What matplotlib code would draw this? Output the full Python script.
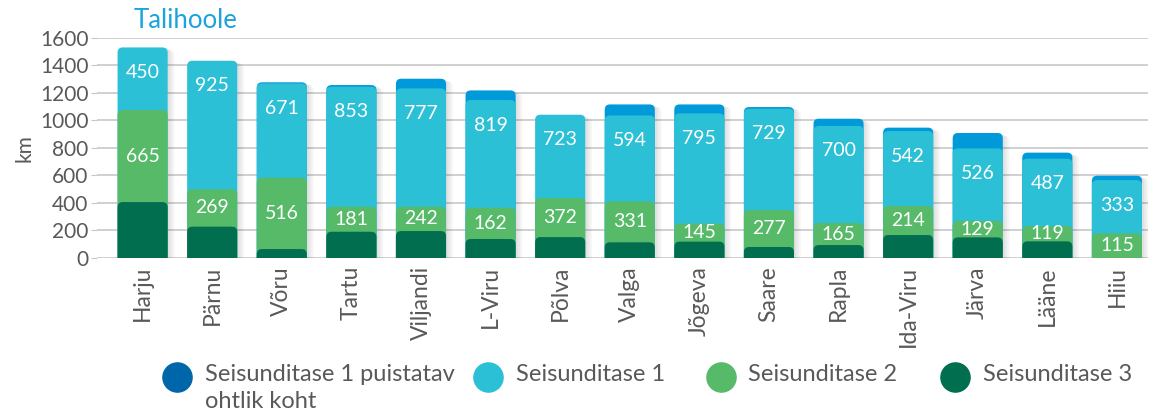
import numpy as np
import matplotlib
matplotlib.use('Agg')
import matplotlib.pyplot as plt
from matplotlib.patches import FancyBboxPatch
from matplotlib.lines import Line2D

# data
regions = ['Harju', 'Pärnu', 'Võru', 'Tartu', 'Viljandi', 'L-Viru', 'Põlva', 'Valga',
           'Jõgeva', 'Saare', 'Rapla', 'Ida-Viru', 'Järva', 'Lääne', 'Hiiu']
# drawn segment heights (km)
level3 = [405, 226, 63, 189, 194, 136, 150, 112, 117, 78, 92, 165, 148, 119, 0]
level2 = [670, 272, 519, 182, 177, 228, 284, 298, 131, 269, 160, 211, 121, 112, 177]
level1 = [456, 936, 687, 874, 862, 784, 607, 626, 803, 738, 707, 546, 527, 490, 388]
level1_danger = [0, 0, 8, 12, 70, 70, 0, 80, 65, 12, 53, 25, 112, 44, 32]
# numbers printed on the bars
level2_labels = [665, 269, 516, 181, 242, 162, 372, 331, 145, 277, 165, 214, 129, 119, 115]
level1_labels = [450, 925, 671, 853, 777, 819, 723, 594, 795, 729, 700, 542, 526, 487, 333]

series = [level3, level2, level1, level1_danger]
colors = ['#006e4f', '#56ba68', '#2cc0d6', '#0099da']
legend_colors = ['#0066aa', '#2cc0d6', '#56ba68', '#006e4f']
legend_names = ['Seisunditase 1 puistatav\nohtlik koht', 'Seisunditase 1',
                'Seisunditase 2', 'Seisunditase 3']

plt.rcParams['font.family'] = ['Lato', 'DejaVu Sans']
grey = '#595959'

fig = plt.figure(figsize=(11.51, 4.17), dpi=100)
ax = fig.add_axes([0.084, 0.382, 0.913, 0.527])

x = np.arange(len(regions))
width = 0.72
ax.set_xlim(-0.66, 14.44)
ax.set_ylim(0, 1600)

cum = np.cumsum(np.array(series), axis=0)

# px -> data aspect for rounded corners
ppx = ax.transData.transform([(0, 0), (1, 100)])
aspect = (100 / (ppx[1][1] - ppx[0][1])) / (1 / (ppx[1][0] - ppx[0][0]))

# soft shadows behind the bars
for i in x:
    for off in [6, 4, 2]:
        sh = FancyBboxPatch((i - width / 2 + off * 0.004, -100), width + off * 0.012,
                            cum[-1][i] + 100 - off * 3,
                            boxstyle='round,pad=0,rounding_size=0.08',
                            mutation_aspect=aspect, fc='#000000', ec='none',
                            alpha=0.04, zorder=1)
        ax.add_patch(sh)

# stacked bars drawn as cumulative rounded bars, tallest first
for s in range(len(series) - 1, -1, -1):
    for i in x:
        if series[s][i] <= 0:
            continue
        p = FancyBboxPatch((i - width / 2, -100), width, cum[s][i] + 100,
                           boxstyle='round,pad=0,rounding_size=0.075',
                           mutation_aspect=aspect, fc=colors[s], ec='none', zorder=2 + (3 - s))
        ax.add_patch(p)

for i in x:
    if level2[i] > 0:
        ax.text(i, cum[0][i] + level2[i] / 2, str(level2_labels[i]), ha='center', va='center',
                color='white', fontsize=14, zorder=10)
    ax.annotate(str(level1_labels[i]), xy=(i, cum[2][i]), xytext=(0, -18),
                textcoords='offset points', ha='center', va='center',
                color='white', fontsize=14, zorder=10)

ax.set_yticks(np.arange(0, 1601, 200))
ax.yaxis.grid(True, color='#c8c8c8', linewidth=1.2)
ax.set_axisbelow(True)
for sp in ax.spines.values():
    sp.set_visible(False)
ax.tick_params(axis='y', length=4, color='#c8c8c8', labelsize=15, labelcolor=grey, pad=2)
ax.tick_params(axis='x', length=0, labelsize=16.5, labelcolor=grey, pad=6)
ax.set_xticks(x)
ax.set_xticklabels(regions, rotation=90)
ax.set_ylabel('km', fontsize=15, color=grey, labelpad=4)

fig.text(0.116, 0.952, 'Talihoole', fontsize=18.5, color='#1ba3dc', ha='left', va='center')

# legend drawn by hand
leg_x = [0.154, 0.424, 0.626, 0.830]
for lx, c, name in zip(leg_x, legend_colors, legend_names):
    fig.add_artist(Line2D([lx], [0.096], marker='o', markersize=21, color=c,
                          linestyle='none', transform=fig.transFigure))
    fig.text(lx + 0.024, 0.126, name, fontsize=17, color=grey, ha='left', va='top',
             linespacing=1.3)

plt.savefig('out.png', dpi=100)
